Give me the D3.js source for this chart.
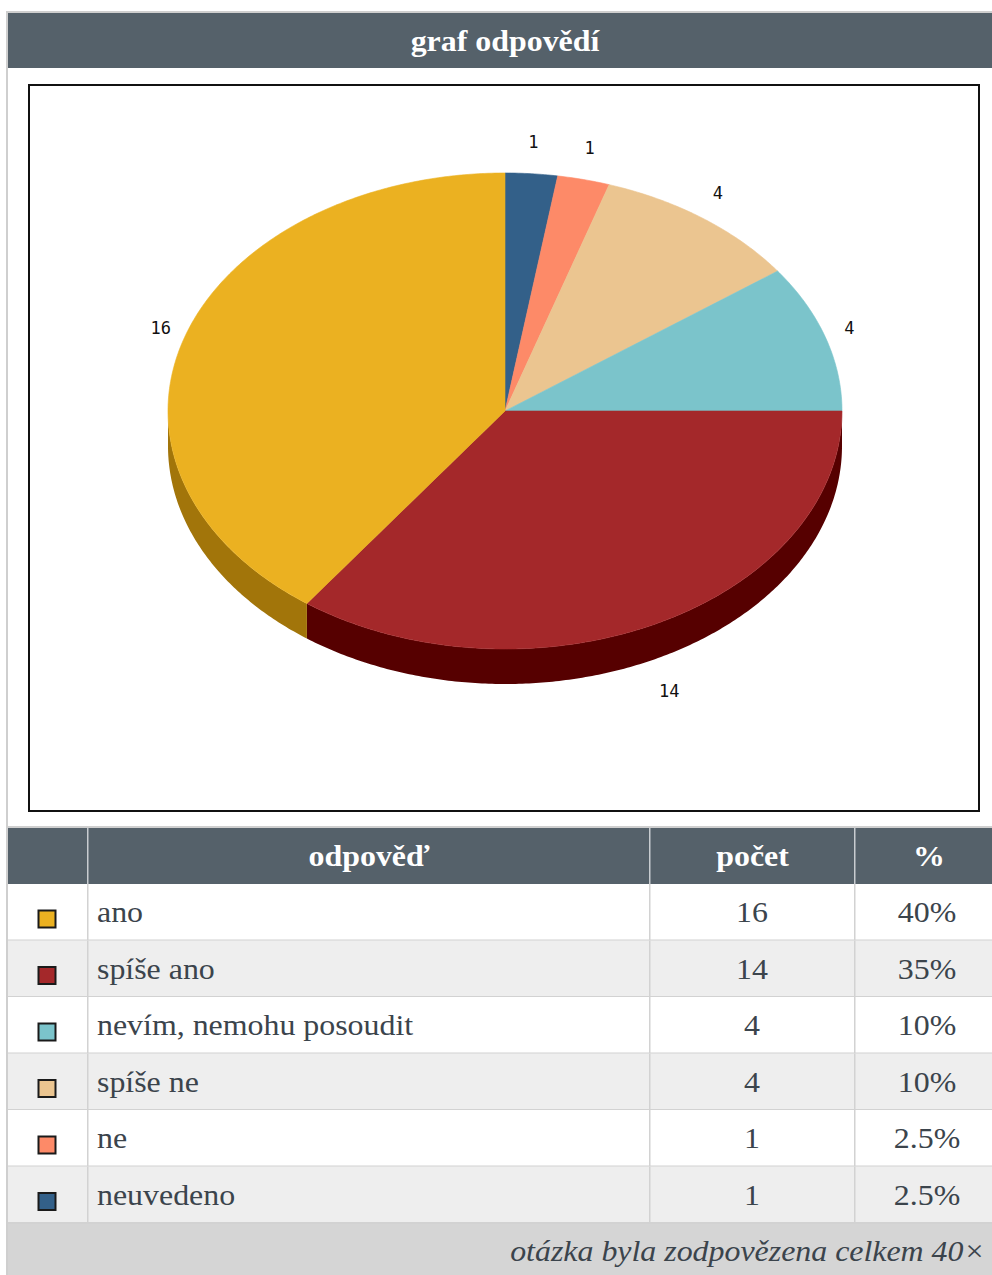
<!DOCTYPE html>
<html><head><meta charset="utf-8">
<script src="https://cdn.jsdelivr.net/npm/d3@7"></script>
<style>
html,body{margin:0;padding:0;background:#fff;}
svg{display:block;}
.serif{font-family:"Liberation Serif","Times New Roman",Times,serif;}
</style></head>
<body>
<svg id="c" width="992" height="1275"></svg>
<script>
// ---- data ----
const title = "graf odpovědí";
const categories = ["ano", "spíše ano", "nevím, nemohu posoudit", "spíše ne", "ne", "neuvedeno"];
const counts = [16, 14, 4, 4, 1, 1];
const percents = ["40%", "35%", "10%", "10%", "2.5%", "2.5%"];
const topColors = ["#ebb121", "#a4282a", "#7bc4cb", "#ebc590", "#fd8a68", "#336089"];
const sideColors = ["#a2750a", "#560000", "#4f9298", "#b8935c", "#c05a3c", "#1c3a58"];
const headers = ["odpověď", "počet", "%"];
const footer = "otázka byla zodpovězena celkem 40×";

const svg = d3.select("#c");
const SX = 1.1; // horizontal stretch of the serif text
function stext(parent, x, y, str, anchor) {
  return parent.append("text").attr("class", "serif")
    .attr("transform", `translate(${x},${y}) scale(${SX},1)`)
    .attr("text-anchor", anchor || "start").text(str);
}

// ---- outer frame / title bar ----
svg.append("rect").attr("x", 7).attr("y", 12).attr("width", 990).attr("height", 1270)
  .attr("fill", "#fff").attr("stroke", "#cfcfcf").attr("stroke-width", 2);
svg.append("rect").attr("x", 8).attr("y", 13).attr("width", 990).attr("height", 55).attr("fill", "#55616a");
stext(svg, 505, 51, title, "middle").attr("font-weight", "bold").attr("font-size", 29).attr("fill", "#fff");

// chart image box
svg.append("rect").attr("x", 29).attr("y", 85).attr("width", 950).attr("height", 726)
  .attr("fill", "#fff").attr("stroke", "#111").attr("stroke-width", 2);

// ---- 3D pie ----
const cx = 505, cy = 411, rx = 337, ry = 238, depth = 35;
const order = d3.range(categories.length).reverse(); // clockwise from top: neuvedeno ... ano
const pie = d3.pie().sort(null).value(i => counts[i]).startAngle(0).endAngle(2 * Math.PI);
const arcs = pie(order);
const pt = (a, dy = 0) => [cx + rx * Math.sin(a), cy - ry * Math.cos(a) + dy];
const sample = (a0, a1, dy = 0) => {
  const n = Math.max(2, Math.ceil(Math.abs(a1 - a0) / 0.01));
  return d3.range(n + 1).map(k => pt(a0 + (a1 - a0) * k / n, dy));
};
const line = d3.line();
const g = svg.append("g");

// side walls (front half: angles PI/2 .. 3PI/2)
arcs.forEach(d => {
  const s = Math.max(d.startAngle, Math.PI / 2), e = Math.min(d.endAngle, 3 * Math.PI / 2);
  if (e <= s) return;
  const pts = sample(s, e).concat(sample(e, s, depth));
  g.append("path").attr("d", line(pts) + "Z").attr("fill", sideColors[d.data]);
});
// top faces
arcs.forEach(d => {
  const pts = [[cx, cy]].concat(sample(d.startAngle, d.endAngle));
  g.append("path").attr("d", line(pts) + "Z").attr("fill", topColors[d.data])
    .attr("stroke", topColors[d.data]).attr("stroke-width", 0.6);
});
// labels
arcs.forEach(d => {
  const m = (d.startAngle + d.endAngle) / 2;
  const lx = cx + 362 * Math.sin(m);
  let ly = cy - 270 * Math.cos(m) + 6;
  if (Math.cos(m) < 0) ly += depth + 4;
  g.append("text").attr("x", lx).attr("y", ly).attr("text-anchor", "middle")
    .attr("font-family", "'DejaVu Sans Mono',monospace").attr("font-size", 17).attr("fill", "#111")
    .text(counts[d.data]);
});

// ---- table ----
const colX = [8, 88, 650, 855, 1000];
const headTop = 828, headH = 56, rowH = 56.5;
const rowsTop = headTop + headH;
const txt = "#3b444c";
svg.append("rect").attr("x", 8).attr("y", 826).attr("width", 990).attr("height", 2).attr("fill", "#cfcfcf");
svg.append("rect").attr("x", 8).attr("y", headTop).attr("width", 990).attr("height", headH).attr("fill", "#55616a");
[1, 2, 3].forEach(i => svg.append("rect").attr("x", colX[i] - 1).attr("y", headTop).attr("width", 1.5)
  .attr("height", headH).attr("fill", "#c8ccd0"));
headers.forEach((h, i) => {
  const x = i === 2 ? 929 : (colX[i + 1] + colX[i + 2]) / 2;
  stext(svg, x, headTop + 38, h, "middle").attr("font-weight", "bold").attr("font-size", 29).attr("fill", "#fff");
});

const rowG = svg.append("g");
categories.forEach((c, i) => {
  const y = rowsTop + i * rowH;
  rowG.append("rect").attr("x", 8).attr("y", y).attr("width", 990).attr("height", rowH)
    .attr("fill", i % 2 === 0 ? "#ffffff" : "#eeeeee");
  rowG.append("rect").attr("x", 8).attr("y", y + rowH - 1).attr("width", 990).attr("height", 2).attr("fill", "#d2d2d2");
  [1, 2, 3].forEach(k => rowG.append("rect").attr("x", colX[k] - 1).attr("y", y).attr("width", 1.5)
    .attr("height", rowH).attr("fill", "#d2d2d2"));
  rowG.append("rect").attr("x", 38.5).attr("y", y + 26.5).attr("width", 17).attr("height", 17)
    .attr("fill", topColors[i]).attr("stroke", "#1a1a1a").attr("stroke-width", 2);
  stext(rowG, 97, y + 38, c).attr("font-size", 29).attr("fill", txt);
  stext(rowG, 752, y + 38, counts[i], "middle").attr("font-size", 29).attr("fill", txt);
  stext(rowG, 927, y + 38, percents[i], "middle").attr("font-size", 29).attr("fill", txt);
});

const footTop = rowsTop + categories.length * rowH + 1;
svg.append("rect").attr("x", 8).attr("y", footTop).attr("width", 990).attr("height", 1275 - footTop).attr("fill", "#d5d5d5");
stext(svg, 985, footTop + 37, footer, "end").attr("font-style", "italic").attr("font-size", 29).attr("fill", txt);
</script>
</body></html>
